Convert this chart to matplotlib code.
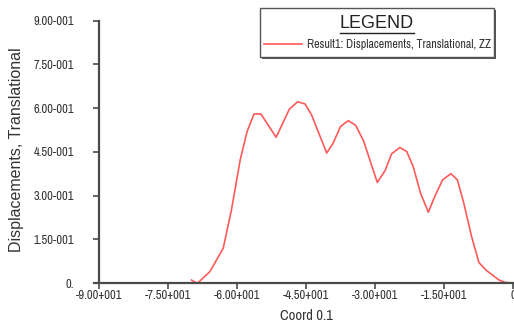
import matplotlib
matplotlib.use("Agg")
import matplotlib.pyplot as plt
from matplotlib.patches import Rectangle
from matplotlib.lines import Line2D

# curve: coord vs. ZZ displacement
coord = [-69.9, -68.8, -68.4, -65.9, -63.0, -61.2, -59.3, -57.8, -56.3, -54.8,
         -51.5, -48.6, -46.8, -45.2, -43.8, -40.5, -39.1, -37.5, -35.8, -34.2,
         -32.5, -29.5, -27.8, -26.4, -24.6, -23.1, -21.7, -20.1, -18.4, -17.0,
         -15.3, -13.5, -12.1, -10.7, -9.0, -7.4, -5.7, -3.0, -1.7, 0.0]
disp = [0.010, 0.000, 0.002, 0.039, 0.119, 0.251, 0.423, 0.520, 0.580, 0.580,
        0.500, 0.597, 0.622, 0.614, 0.577, 0.446, 0.480, 0.537, 0.557, 0.541,
        0.488, 0.345, 0.386, 0.443, 0.465, 0.451, 0.400, 0.308, 0.243, 0.297,
        0.354, 0.375, 0.354, 0.274, 0.159, 0.070, 0.042, 0.010, 0.002, 0.000]

xticks = [-90, -75, -60, -45, -30, -15, 0]
xtick_labels = ["-9.00+001", "-7.50+001", "-6.00+001", "-4.50+001",
                "-3.00+001", "-1.50+001", "0"]
yticks = [0, 0.15, 0.30, 0.45, 0.60, 0.75, 0.90]
ytick_labels = ["0.", "1.50-001", "3.00-001", "4.50-001",
                "6.00-001", "7.50-001", "9.00-001"]
series_name = "Result1: Displacements, Translational, ZZ"

narrow = ["Archivo Narrow", "Roboto Condensed", "DejaVu Sans"]
plain = ["Liberation Sans", "DejaVu Sans"]
axis_col = "#4a4a4a"
line_col = "#ff5a5a"
text_col = "#333333"

fig = plt.figure(figsize=(5.14, 3.26), dpi=100)
ax = fig.add_axes([99 / 514, 43 / 326, 414 / 514, 262.3 / 326])
ax.plot(coord, disp, color=line_col, lw=1.2)

ax.set_xlim(-90, 0)
ax.set_ylim(0, 0.9)
ax.set_xticks(xticks)
ax.set_xticklabels(xtick_labels, family=narrow, fontsize=9, color=text_col)
ax.set_yticks(yticks)
ax.set_yticklabels(ytick_labels, family=narrow, fontsize=9, color=text_col)
ax.tick_params(axis="x", direction="out", length=4, width=1.2, color=axis_col, pad=1)
ax.tick_params(axis="y", direction="out", length=4, width=1.2, color=axis_col, pad=14)

for s in ["top", "right"]:
    ax.spines[s].set_visible(False)
for s in ["left", "bottom"]:
    ax.spines[s].set_color(axis_col)
    ax.spines[s].set_linewidth(1.6)
ax.spines["bottom"].set_bounds(-91, 0)

ax.set_xlabel("Coord 0.1", family=narrow, fontsize=10.5, color=text_col)
ax.xaxis.set_label_coords(0.5, -0.126)
ax.xaxis.label.set_va("center")
ax.set_ylabel("Displacements, Translational", family=plain, fontsize=11.5, color=text_col)
ax.yaxis.set_label_coords(-0.2, 0.51)
ax.yaxis.label.set_va("center")

# legend box drawn by hand (title is underlined, box has a shadow)
fx = lambda px: px / 514
fy = lambda py: 1 - py / 326
fig.patches.append(Rectangle((fx(262), fy(59)), fx(234), 49 / 326, transform=fig.transFigure,
                             facecolor="#555555", edgecolor="none", zorder=5))
fig.patches.append(Rectangle((fx(260), fy(57)), fx(234), 49 / 326, transform=fig.transFigure,
                             facecolor="white", edgecolor="#555555", lw=1.0, zorder=6))
fig.text(fx(377), fy(23), "LEGEND", family=plain, fontsize=13, ha="center", va="center",
         color="#222222", zorder=7)
fig.lines.append(Line2D([fx(340), fx(414)], [fy(33), fy(33)], transform=fig.transFigure,
                        color="#222222", lw=1.0, zorder=7))
fig.lines.append(Line2D([fx(264), fx(302)], [fy(44), fy(44)], transform=fig.transFigure,
                        color=line_col, lw=1.2, zorder=7))
fig.text(fx(307), fy(44), series_name, family=narrow, fontsize=8.6, ha="left", va="center",
         color=text_col, zorder=7)

fig.savefig("out.png", dpi=100)
